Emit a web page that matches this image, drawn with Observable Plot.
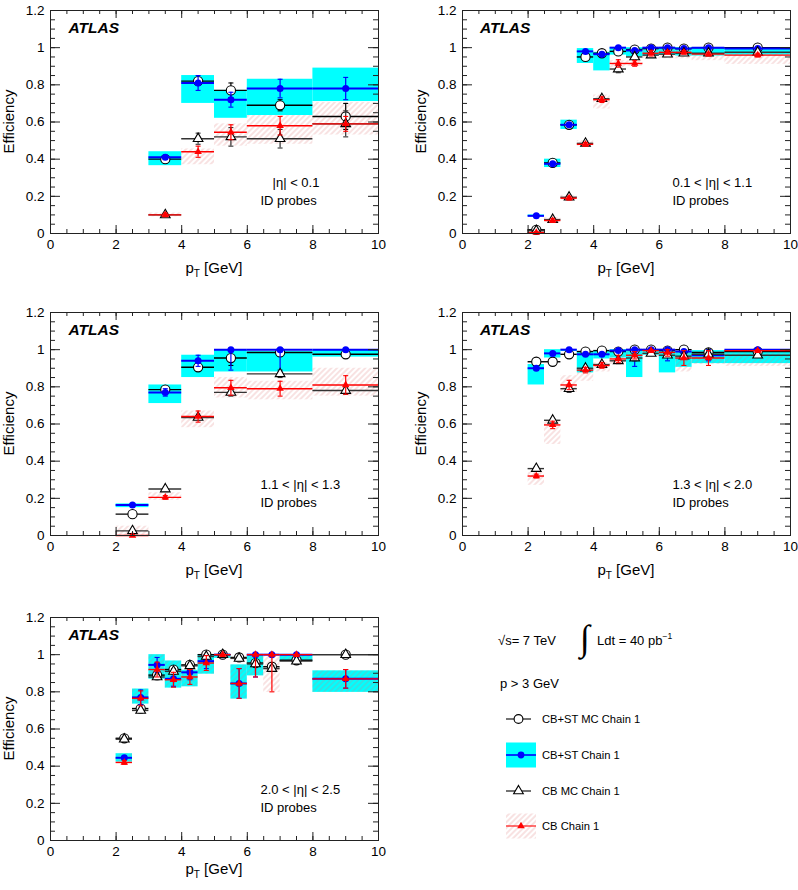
<!DOCTYPE html>
<html><head><meta charset="utf-8">
<script src="https://cdn.jsdelivr.net/npm/d3@7"></script>
<script src="https://cdn.jsdelivr.net/npm/@observablehq/plot@0.6"></script>
<style>
body{margin:0;background:#fff;}
#page{position:relative;width:798px;height:890px;overflow:hidden;font-family:"Liberation Sans",Arial,Helvetica,sans-serif;}
.panel{position:absolute;}
</style></head><body>
<svg width="0" height="0" style="position:absolute"><defs>
<pattern id="hatch" patternUnits="userSpaceOnUse" width="4" height="4" patternTransform="rotate(45)">
<rect width="4" height="4" fill="#ffffff" fill-opacity="0"/>
<line x1="1" y1="0" x2="1" y2="4" stroke="#e27a7a" stroke-width="0.8" stroke-opacity="0.55"/></pattern>
</defs></svg>
<div id="page"></div>
<script>
// ---------- axis ticks ----------
const xTicks = [0, 2, 4, 6, 8, 10];
const yTicks = [0, 0.2, 0.4, 0.6, 0.8, 1, 1.2];
const xMinor = d3.range(0, 10.001, 0.5);
const yMinor = d3.range(0, 1.2001, 0.05);

// ---------- panel 1 : |eta| < 0.1 ----------
const p1_lo = [3, 4, 5, 6, 8];
const p1_hi = [4, 5, 6, 8, 10];
const p1_cbstMC = [0.40, 0.82, 0.77, 0.69, 0.63];
const p1_cbstMC_err = [0.01, 0.01, 0.04, 0.03, 0.07];
const p1_cbst = [0.41, 0.81, 0.72, 0.78, 0.78];
const p1_cbst_err = [0.01, 0.04, 0.04, 0.05, 0.06];
const p1_cbst_sysLo = [0.365, 0.70, 0.62, 0.635, 0.71];
const p1_cbst_sysHi = [0.44, 0.85, 0.77, 0.83, 0.89];
const p1_cbMC = [0.10, 0.51, 0.52, 0.51, 0.59];
const p1_cbMC_err = [0.005, 0.03, 0.05, 0.05, 0.07];
const p1_cb = [0.10, 0.44, 0.545, 0.58, 0.59];
const p1_cb_err = [0.01, 0.03, 0.04, 0.05, 0.04];
const p1_cb_sysLo = [0.09, 0.37, 0.47, 0.48, 0.53];
const p1_cb_sysHi = [0.11, 0.455, 0.59, 0.635, 0.705];

// ---------- panel 2 : 0.1 < |eta| < 1.1 ----------
const p2_lo = [2, 2.5, 3, 3.5, 4, 4.5, 5, 5.5, 6, 6.5, 7, 8];
const p2_hi = [2.5, 3, 3.5, 4, 4.5, 5, 5.5, 6, 6.5, 7, 8, 10];
const p2_cbstMC = [0.02, 0.38, 0.585, 0.95, 0.97, 0.98, 0.99, 0.995, 1.0, 0.995, 1.0, 1.0];
const p2_cbstMC_err = [0.01, 0.01, 0.01, 0.01, 0.01, 0.01, 0.01, 0.005, 0.005, 0.005, 0.005, 0.005];
const p2_cbst = [0.095, 0.375, 0.585, 0.98, 0.965, 1.0, 0.985, 1.0, 1.0, 0.995, 1.0, 0.995];
const p2_cbst_err = [0.005, 0.01, 0.01, 0.01, 0.01, 0.005, 0.01, 0.005, 0.005, 0.005, 0.005, 0.005];
const p2_cbst_sysLo = [0.09, 0.355, 0.56, 0.915, 0.875, 0.96, 0.95, 0.955, 0.96, 0.955, 0.955, 0.96];
const p2_cbst_sysHi = [0.10, 0.40, 0.61, 0.995, 0.975, 1.0, 1.0, 1.0, 1.0, 1.0, 1.0, 1.0];
const p2_cbMC = [0.015, 0.075, 0.195, 0.485, 0.725, 0.885, 0.95, 0.96, 0.965, 0.97, 0.97, 0.975];
const p2_cbMC_err = [0.005, 0.01, 0.01, 0.01, 0.01, 0.02, 0.01, 0.01, 0.01, 0.01, 0.01, 0.01];
const p2_cb = [0.005, 0.07, 0.19, 0.48, 0.72, 0.915, 0.915, 0.97, 0.975, 0.975, 0.965, 0.96];
const p2_cb_err = [0.005, 0.01, 0.01, 0.01, 0.015, 0.02, 0.015, 0.015, 0.01, 0.01, 0.01, 0.01];
const p2_cb_sysLo = [0.0, 0.06, 0.18, 0.47, 0.67, 0.89, 0.90, 0.94, 0.94, 0.94, 0.93, 0.91];
const p2_cb_sysHi = [0.01, 0.085, 0.205, 0.50, 0.745, 0.93, 0.93, 0.99, 0.99, 0.99, 0.97, 0.97];

// ---------- panel 3 : 1.1 < |eta| < 1.3 ----------
const p3_lo = [2, 3, 4, 5, 6, 8];
const p3_hi = [3, 4, 5, 6, 8, 10];
const p3_cbstMC = [0.115, 0.785, 0.905, 0.955, 0.985, 0.975];
const p3_cbstMC_err = [0.005, 0.01, 0.015, 0.04, 0.02, 0.01];
const p3_cbst = [0.164, 0.77, 0.94, 1.0, 1.0, 1.0];
const p3_cbst_err = [0.005, 0.02, 0.03, 0.11, 0.12, 0.01];
const p3_cbst_sysLo = [0.15, 0.71, 0.85, 0.88, 0.88, 0.96];
const p3_cbst_sysHi = [0.17, 0.81, 0.97, 1.0, 0.99, 1.0];
const p3_cbMC = [0.025, 0.25, 0.635, 0.77, 0.87, 0.78];
const p3_cbMC_err = [0.005, 0.01, 0.01, 0.02, 0.02, 0.02];
const p3_cb = [0.0, 0.205, 0.64, 0.795, 0.79, 0.81];
const p3_cb_err = [0.005, 0.01, 0.03, 0.04, 0.04, 0.05];
const p3_cb_sysLo = [0.0, 0.19, 0.58, 0.74, 0.73, 0.75];
const p3_cb_sysHi = [0.05, 0.23, 0.67, 0.85, 0.83, 0.90];

// ---------- panel 4 : 1.3 < |eta| < 2.0 ----------
const p4_lo = [2, 2.5, 3, 3.5, 4, 4.5, 5, 5.5, 6, 6.5, 7, 8];
const p4_hi = [2.5, 3, 3.5, 4, 4.5, 5, 5.5, 6, 6.5, 7, 8, 10];
const p4_cbstMC = [0.935, 0.935, 0.975, 0.99, 0.995, 0.99, 1.0, 1.0, 0.995, 1.0, 0.985, 0.99];
const p4_cbstMC_err = [0.005, 0.005, 0.005, 0.005, 0.005, 0.005, 0.005, 0.005, 0.005, 0.005, 0.005, 0.005];
const p4_cbst = [0.90, 0.98, 1.0, 0.975, 0.975, 0.995, 1.0, 1.0, 1.0, 0.99, 0.97, 1.0];
const p4_cbst_err = [0.01, 0.01, 0.005, 0.01, 0.01, 0.01, 0.09, 0.02, 0.06, 0.02, 0.03, 0.01];
const p4_cbst_sysLo = [0.81, 0.955, 0.99, 0.875, 0.95, 0.955, 0.85, 0.97, 0.875, 0.905, 0.925, 0.925];
const p4_cbst_sysHi = [0.92, 1.0, 1.0, 0.99, 0.99, 1.0, 1.0, 1.0, 1.0, 0.99, 0.995, 0.995];
const p4_cbMC = [0.36, 0.62, 0.79, 0.90, 0.92, 0.94, 0.955, 0.98, 0.97, 0.965, 0.975, 0.97];
const p4_cbMC_err = [0.01, 0.01, 0.02, 0.01, 0.01, 0.015, 0.015, 0.01, 0.01, 0.01, 0.01, 0.01];
const p4_cb = [0.32, 0.595, 0.81, 0.89, 0.915, 0.95, 0.97, 0.995, 0.985, 0.955, 0.955, 0.995];
const p4_cb_err = [0.01, 0.02, 0.025, 0.015, 0.015, 0.02, 0.02, 0.01, 0.02, 0.04, 0.04, 0.01];
const p4_cb_sysLo = [0.27, 0.49, 0.77, 0.83, 0.88, 0.92, 0.94, 0.96, 0.96, 0.88, 0.92, 0.91];
const p4_cb_sysHi = [0.34, 0.615, 0.86, 0.905, 0.93, 0.97, 1.0, 1.0, 1.0, 0.99, 0.99, 0.98];

// ---------- panel 5 : 2.0 < |eta| < 2.5 ----------
const p5_lo = [2, 2.5, 3, 3.5, 4, 4.5, 5, 5.5, 6, 6.5, 7, 8];
const p5_hi = [2.5, 3, 3.5, 4, 4.5, 5, 5.5, 6, 6.5, 7, 8, 10];
const p5_cbstMC = [0.55, 0.71, 0.89, 0.92, 0.945, 1.0, 1.0, 0.985, 0.955, 0.935, 0.97, 1.0];
const p5_cbstMC_err = [0.01, 0.01, 0.015, 0.015, 0.01, 0.01, 0.005, 0.01, 0.015, 0.015, 0.01, 0.005];
const p5_cbst = [0.445, 0.77, 0.945, 0.87, 0.905, 0.965, 1.0, 0.845, 1.0, 1.0, 1.0, 0.87];
const p5_cbst_err = [0.01, 0.04, 0.04, 0.04, 0.04, 0.04, 0.01, 0.08, 0.12, 0.005, 0.01, 0.05];
const p5_cbst_sysLo = [0.422, 0.734, 0.868, 0.82, 0.827, 0.895, 0.98, 0.761, 0.886, null, 0.966, 0.797];
const p5_cbst_sysHi = [0.467, 0.815, 1.0, 0.966, 0.916, 1.0, 1.0, 0.945, 0.998, null, 1.0, 0.913];
const p5_cbMC = [0.545, 0.70, 0.88, 0.91, 0.94, 0.99, 1.0, 0.98, 0.95, 0.925, 0.965, 1.0];
const p5_cbMC_err = [0.01, 0.01, 0.015, 0.015, 0.01, 0.01, 0.005, 0.01, 0.015, 0.015, 0.01, 0.005];
const p5_cb = [0.42, 0.765, 0.92, 0.865, 0.88, 0.955, 1.0, 0.845, 1.0, 1.0, 1.0, 0.87];
const p5_cb_err = [0.01, 0.04, 0.04, 0.04, 0.04, 0.04, 0.01, 0.08, 0.12, 0.20, 0.01, 0.05];
const p5_cb_sysLo = [0.422, 0.734, 0.868, 0.82, 0.827, 0.895, 0.98, 0.761, 0.886, 0.797, 0.966, 0.797];
const p5_cb_sysHi = [0.467, 0.815, 1.0, 0.966, 0.916, 1.0, 1.0, 0.945, 0.998, 0.993, 1.0, 0.913];

// ---------- texts ----------
const etaLabels = ["|\u03b7| < 0.1", "0.1 < |\u03b7| < 1.1", "1.1 < |\u03b7| < 1.3", "1.3 < |\u03b7| < 2.0", "2.0 < |\u03b7| < 2.5"];
const legendLabels = ["CB+ST MC Chain 1", "CB+ST Chain 1", "CB MC Chain 1", "CB Chain 1"];

const CYAN = "#00ffff", BLUE = "#0000ff", RED = "#ff0000", BLACK = "#000000";
const FONT = "'Liberation Sans', Arial, Helvetica, sans-serif";

const capSymbol = {draw(ctx, size) { const r = Math.sqrt(size / Math.PI); ctx.moveTo(-r, 0); ctx.lineTo(r, 0); }};

function series(lo, hi, v, e) {
  return lo.map((l, i) => ({lo: l, hi: hi[i], c: (l + hi[i]) / 2, v: v[i], e: e[i]}));
}
function boxes(lo, hi, sl, sh) {
  return lo.map((l, i) => ({lo: l, hi: hi[i], sl: sl[i], sh: sh[i]})).filter(d => d.sl != null);
}

function pointMarks(data, stroke, sw, marker) {
  const y1 = d => Math.max(0, d.v - d.e), y2 = d => Math.min(1, d.v + d.e);
  return [
    Plot.ruleY(data, {y: "v", x1: "lo", x2: "hi", stroke, strokeWidth: sw}),
    Plot.ruleX(data, {x: "c", y1, y2, stroke, strokeWidth: 1.2}),
    Plot.dot(data, {x: "c", y: y1, symbol: capSymbol, r: 2.5, stroke, strokeWidth: 1.1, fill: "none"}),
    Plot.dot(data, {x: "c", y: y2, symbol: capSymbol, r: 2.5, stroke, strokeWidth: 1.1, fill: "none"}),
    Plot.dot(data, {x: "c", y: "v", ...marker})
  ];
}

function panel(cfg) {
  const W = 399, H = 290, mt = 10, mb = 57;
  const ml = cfg.right ? 63 : 50, mr = cfg.right ? 8 : 21;
  const FW = W - ml - mr, FH = H - mt - mb;
  const P = cfg.p;
  const circMC = series(P.lo, P.hi, P.cbstMC, P.cbstMC_err);
  const cbst = series(P.lo, P.hi, P.cbst, P.cbst_err);
  const triMC = series(P.lo, P.hi, P.cbMC, P.cbMC_err);
  const cb = series(P.lo, P.hi, P.cb, P.cb_err);
  const cyanBoxes = boxes(P.lo, P.hi, P.cbst_sysLo, P.cbst_sysHi);
  const hatchBoxes = boxes(P.lo, P.hi, P.cb_sysLo, P.cb_sysHi);
  const tickStroke = "#222";
  const svg = Plot.plot({
    width: W, height: H, marginTop: mt, marginBottom: mb, marginLeft: ml, marginRight: mr,
    x: {domain: [0, 10]},
    y: {domain: [0, 1.2]},
    style: {fontFamily: FONT, fontSize: "13px", background: "white", color: "black"},
    marks: [
      Plot.rect(cyanBoxes, {x1: "lo", x2: "hi", y1: "sl", y2: "sh", fill: CYAN}),
      Plot.rect(hatchBoxes, {x1: "lo", x2: "hi", y1: "sl", y2: "sh", fill: "url(#hatch)"}),
      ...pointMarks(circMC, BLACK, 1.4, {symbol: "circle", r: 4.6, stroke: BLACK, strokeWidth: 1.1, fill: "white"}),
      ...pointMarks(cbst, BLUE, 2, {symbol: "circle", r: 3.5, fill: BLUE}),
      ...pointMarks(triMC, "#333", 1.4, {symbol: "triangle", r: 3.6, stroke: BLACK, strokeWidth: 1.1, fill: "white"}),
      ...pointMarks(cb, RED, 1.4, {symbol: "triangle", r: 2.8, fill: RED}),
      // frame and inward ticks on all sides
      Plot.frame({stroke: "#222", strokeWidth: 1}),
      Plot.tickX(xMinor, {x: d => d, insetTop: FH - 4, stroke: tickStroke}),
      Plot.tickX(xTicks, {x: d => d, insetTop: FH - 8, stroke: tickStroke}),
      Plot.tickX(xMinor, {x: d => d, insetBottom: FH - 4, stroke: tickStroke}),
      Plot.tickX(xTicks, {x: d => d, insetBottom: FH - 8, stroke: tickStroke}),
      Plot.tickY(yMinor, {y: d => d, insetRight: FW - 5, stroke: tickStroke}),
      Plot.tickY(yTicks, {y: d => d, insetRight: FW - 10, stroke: tickStroke}),
      Plot.tickY(yMinor, {y: d => d, insetLeft: FW - 5, stroke: tickStroke}),
      Plot.tickY(yTicks, {y: d => d, insetLeft: FW - 10, stroke: tickStroke}),
      Plot.axisX({ticks: xTicks, tickSize: 0, tickPadding: 6, label: null, fontSize: 13.5}),
      Plot.axisY({ticks: yTicks, tickSize: 0, tickPadding: 6, label: null, fontSize: 13.5, tickFormat: d3.format("~g")}),
      Plot.text([{x: cfg.atlasX, y: 1.108, t: "ATLAS"}], {x: "x", y: "y", text: "t", textAnchor: "start", lineAnchor: "middle", fontSize: 15.5, fontWeight: "bold", fontStyle: "italic"}),
      Plot.text([{x: cfg.etaX, y: 0.27, t: cfg.eta}], {x: "x", y: "y", text: "t", textAnchor: "start", lineAnchor: "middle", fontSize: 13}),
      Plot.text([{x: 6.4, y: 0.175, t: "ID probes"}], {x: "x", y: "y", text: "t", textAnchor: "start", lineAnchor: "middle", fontSize: 13})
    ]
  });
  const s = d3.select(svg);
  const t = s.append("text").attr("x", ml + FW / 2).attr("y", mt + FH + cfg.titleOff)
    .attr("text-anchor", "middle").attr("font-size", 15).attr("font-family", FONT).attr("fill", "black");
  t.append("tspan").text("p");
  t.append("tspan").attr("font-size", 10).attr("dy", 4).text("T");
  t.append("tspan").attr("dy", -4).text(" [GeV]");
  s.append("text").attr("transform", `translate(${ml - 36},${mt + FH / 2}) rotate(-90)`)
    .attr("text-anchor", "middle").attr("font-size", 15).attr("font-family", FONT).attr("fill", "black").text("Efficiency");
  const div = document.createElement("div");
  div.className = "panel";
  div.style.left = cfg.left + "px";
  div.style.top = cfg.top + "px";
  div.appendChild(svg);
  document.getElementById("page").appendChild(div);
}

const mk = (lo, hi, cbstMC, cbstMC_err, cbst, cbst_err, cbst_sysLo, cbst_sysHi, cbMC, cbMC_err, cb, cb_err, cb_sysLo, cb_sysHi) =>
  ({lo, hi, cbstMC, cbstMC_err, cbst, cbst_err, cbst_sysLo, cbst_sysHi, cbMC, cbMC_err, cb, cb_err, cb_sysLo, cb_sysHi});

panel({left: 0, top: 0, right: false, titleOff: 40, atlasX: 0.55, etaX: 6.77, eta: etaLabels[0],
  p: mk(p1_lo, p1_hi, p1_cbstMC, p1_cbstMC_err, p1_cbst, p1_cbst_err, p1_cbst_sysLo, p1_cbst_sysHi, p1_cbMC, p1_cbMC_err, p1_cb, p1_cb_err, p1_cb_sysLo, p1_cb_sysHi)});
panel({left: 399, top: 0, right: true, titleOff: 40, atlasX: 0.53, etaX: 6.4, eta: etaLabels[1],
  p: mk(p2_lo, p2_hi, p2_cbstMC, p2_cbstMC_err, p2_cbst, p2_cbst_err, p2_cbst_sysLo, p2_cbst_sysHi, p2_cbMC, p2_cbMC_err, p2_cb, p2_cb_err, p2_cb_sysLo, p2_cb_sysHi)});
panel({left: 0, top: 302, right: false, titleOff: 40, atlasX: 0.55, etaX: 6.4, eta: etaLabels[2],
  p: mk(p3_lo, p3_hi, p3_cbstMC, p3_cbstMC_err, p3_cbst, p3_cbst_err, p3_cbst_sysLo, p3_cbst_sysHi, p3_cbMC, p3_cbMC_err, p3_cb, p3_cb_err, p3_cb_sysLo, p3_cb_sysHi)});
panel({left: 399, top: 302, right: true, titleOff: 40, atlasX: 0.53, etaX: 6.4, eta: etaLabels[3],
  p: mk(p4_lo, p4_hi, p4_cbstMC, p4_cbstMC_err, p4_cbst, p4_cbst_err, p4_cbst_sysLo, p4_cbst_sysHi, p4_cbMC, p4_cbMC_err, p4_cb, p4_cb_err, p4_cb_sysLo, p4_cb_sysHi)});
panel({left: 0, top: 607, right: false, titleOff: 34, atlasX: 0.55, etaX: 6.4, eta: etaLabels[4],
  p: mk(p5_lo, p5_hi, p5_cbstMC, p5_cbstMC_err, p5_cbst, p5_cbst_err, p5_cbst_sysLo, p5_cbst_sysHi, p5_cbMC, p5_cbMC_err, p5_cb, p5_cb_err, p5_cb_sysLo, p5_cb_sysHi)});

// ---------- legend ----------
(function legend() {
  const L = d3.select("#page").append("svg").attr("width", 348).attr("height", 290)
    .style("position", "absolute").style("left", "450px").style("top", "600px")
    .attr("font-family", FONT);
  const ox = 450, oy = 600;
  L.append("text").attr("x", 498 - ox).attr("y", 645 - oy).attr("font-size", 13).text("\u221As= 7 TeV");
  L.append("text").attr("x", 580 - ox).attr("y", 650 - oy).attr("font-size", 36).attr("font-family", "'Liberation Serif', serif").text("\u222B");
  const lt = L.append("text").attr("x", 597 - ox).attr("y", 645 - oy).attr("font-size", 13);
  lt.append("tspan").text("Ldt = 40 pb");
  lt.append("tspan").attr("dy", -6).attr("font-size", 8.5).text("\u22121");
  L.append("text").attr("x", 500 - ox).attr("y", 688 - oy).attr("font-size", 13).text("p > 3 GeV");
  const rowsY = [719, 755, 791, 826];
  const x0 = 506 - ox, x1 = 536 - ox, xc = 521 - ox;
  L.append("rect").attr("x", x0).attr("y", rowsY[1] - oy - 12.5).attr("width", 30).attr("height", 25).attr("fill", CYAN);
  L.append("rect").attr("x", x0).attr("y", rowsY[3] - oy - 12.5).attr("width", 30).attr("height", 25).attr("fill", "url(#hatch)");
  const lineCol = [BLACK, BLUE, BLACK, RED];
  rowsY.forEach((yy, i) => {
    const y = yy - oy;
    L.append("line").attr("x1", x0).attr("x2", x1 - (i % 2 === 0 ? 5 : 0)).attr("y1", y).attr("y2", y).attr("stroke", lineCol[i]).attr("stroke-width", i === 1 ? 1.6 : 1.1);
    L.append("text").attr("x", 542 - ox).attr("y", y + 4).attr("font-size", 11.2).text(legendLabels[i]);
  });
  const xm = xc - 2.5;
  L.append("circle").attr("cx", xm).attr("cy", rowsY[0] - oy).attr("r", 4.4).attr("fill", "white").attr("stroke", BLACK).attr("stroke-width", 1.1);
  L.append("circle").attr("cx", xc).attr("cy", rowsY[1] - oy).attr("r", 3.4).attr("fill", BLUE);
  L.append("path").attr("transform", `translate(${xm},${rowsY[2] - oy})`).attr("d", d3.symbol(d3.symbolTriangle, 3.6 * 3.6 * Math.PI)()).attr("fill", "white").attr("stroke", BLACK).attr("stroke-width", 1.1);
  L.append("path").attr("transform", `translate(${xc},${rowsY[3] - oy})`).attr("d", d3.symbol(d3.symbolTriangle, 2.8 * 2.8 * Math.PI)()).attr("fill", RED);
})();
</script>
</body></html>
